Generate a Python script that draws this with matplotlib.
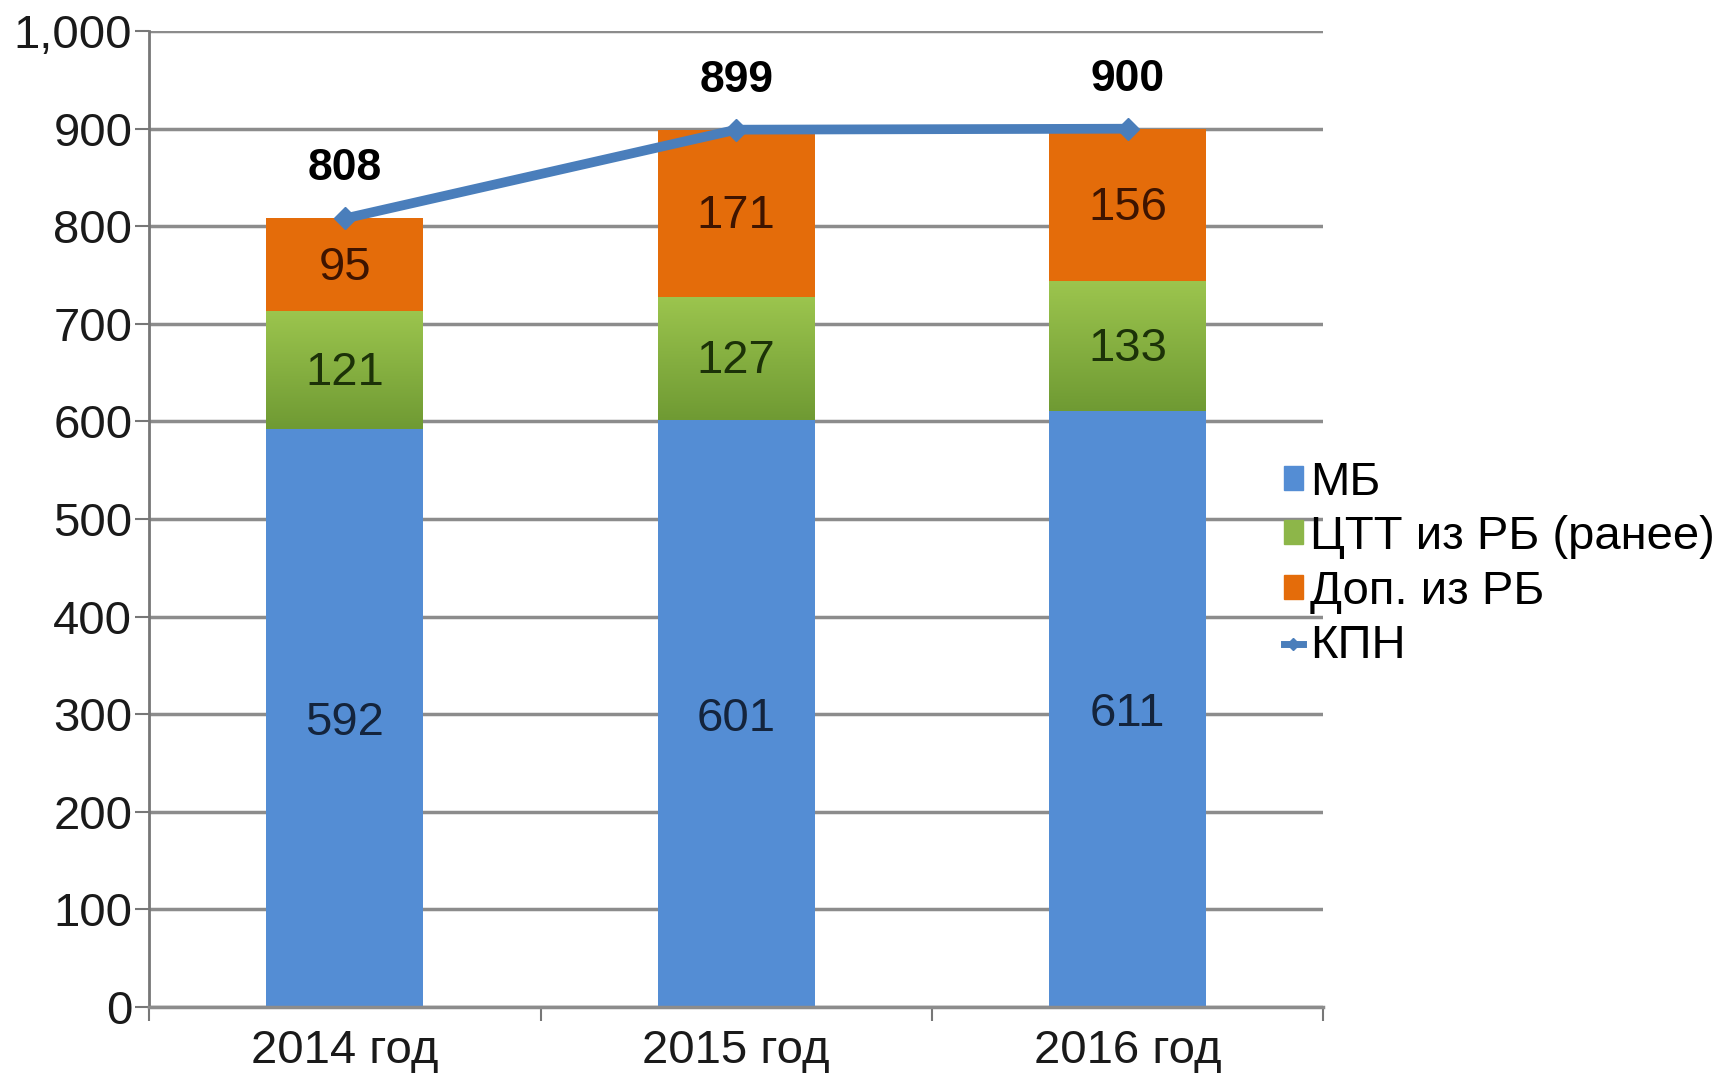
import matplotlib
matplotlib.use("Agg")
import matplotlib.pyplot as plt
import numpy as np
from matplotlib.lines import Line2D
from matplotlib.patches import Patch
from matplotlib.colors import LinearSegmentedColormap

categories = ["2014 год", "2015 год", "2016 год"]
mb = [592, 601, 611]
ctt = [121, 127, 133]
dop = [95, 171, 156]
kpn = [808, 899, 900]
series_names = ["МБ", "ЦТТ из РБ (ранее)", "Доп. из РБ", "КПН"]
yticks = [0, 100, 200, 300, 400, 500, 600, 700, 800, 900, 1000]

plt.rcParams['font.family'] = ['Liberation Sans', 'DejaVu Sans']
FS = 34

fig = plt.figure(figsize=(17.21, 10.73), dpi=100)
ax = fig.add_axes([0.0866, 0.0615, 0.769 - 0.0866, 0.971 - 0.0615])

x = np.arange(len(categories))
w = 0.4
c_blue = '#548DD4'
c_green = '#8DB649'
c_orange = '#E46C0A'
c_line = '#4A7EBB'

b1 = ax.bar(x, mb, w, color=c_blue, zorder=2)
b2 = ax.bar(x, ctt, w, bottom=mb, color=c_green, zorder=2)
bottom3 = [a + b for a, b in zip(mb, ctt)]
b3 = ax.bar(x, dop, w, bottom=bottom3, color=c_orange, zorder=2)

grad = np.linspace(0, 1, 256).reshape(-1, 1)
gcm = LinearSegmentedColormap.from_list('g', ['#6F9A33', '#9CC54E'])
for rect in b2:
    xx, yy = rect.get_x(), rect.get_y()
    im = ax.imshow(grad, cmap=gcm, aspect='auto', origin='lower',
                   extent=[xx, xx + rect.get_width(), yy, yy + rect.get_height()], zorder=2.1)
    im.set_clip_path(rect)

ax.plot(x, kpn, color=c_line, lw=7, marker='D', markersize=11, zorder=4)

for i in range(len(x)):
    ax.text(x[i], mb[i] / 2 - 5, str(mb[i]), ha='center', va='center', fontsize=FS, color='#14243c', zorder=5)
    ax.text(x[i], mb[i] + ctt[i] / 2 - 3, str(ctt[i]), ha='center', va='center', fontsize=FS, color='#1c3208', zorder=5)
    ax.text(x[i], bottom3[i] + dop[i] / 2 - 3, str(dop[i]), ha='center', va='center', fontsize=FS, color='#3e1400', zorder=5)
    ax.annotate(str(kpn[i]), (x[i], kpn[i]), xytext=(0, 21), textcoords='offset points',
                ha='center', va='bottom', fontsize=FS - 2, fontweight='bold', color='black', zorder=5)

ax.set_xlim(-0.5, 2.5)
ax.set_ylim(0, 1000)
ax.set_yticks(yticks)
ax.set_yticklabels([f"{v:,}" for v in yticks], fontsize=FS, color='#1a1a1a')
ax.yaxis.grid(True, color='#8c8c8c', lw=2.5, zorder=0)
ax.set_axisbelow(True)

ax.set_xticks(x)
ax.set_xticklabels(categories, fontsize=FS, color='#1a1a1a')
ax.tick_params(axis='x', length=0, pad=16)
ax.set_xticks([-0.5, 0.5, 1.5, 2.5], minor=True)
ax.tick_params(axis='x', which='minor', length=10, width=1.5, color='#777777', direction='out')
ax.tick_params(axis='y', length=10, width=1.5, color='#777777', pad=2)

for s in ['top', 'right']:
    ax.spines[s].set_visible(False)
ax.spines['left'].set_color('#777777')
ax.spines['left'].set_linewidth(2)
ax.spines['bottom'].set_color('#8c8c8c')
ax.spines['bottom'].set_linewidth(2.5)

handles = [Patch(color=c_blue), Patch(color='#8DB649'), Patch(color=c_orange),
           Line2D([0], [0], color=c_line, lw=5, marker='D', markersize=6)]
fig.legend(handles, series_names, loc='center left', bbox_to_anchor=(0.735, 0.474),
           frameon=False, fontsize=FS, handlelength=0.4, handleheight=0.4,
           handletextpad=0.15, labelspacing=0.22, borderaxespad=0)

fig.savefig('out.png', dpi=100)
